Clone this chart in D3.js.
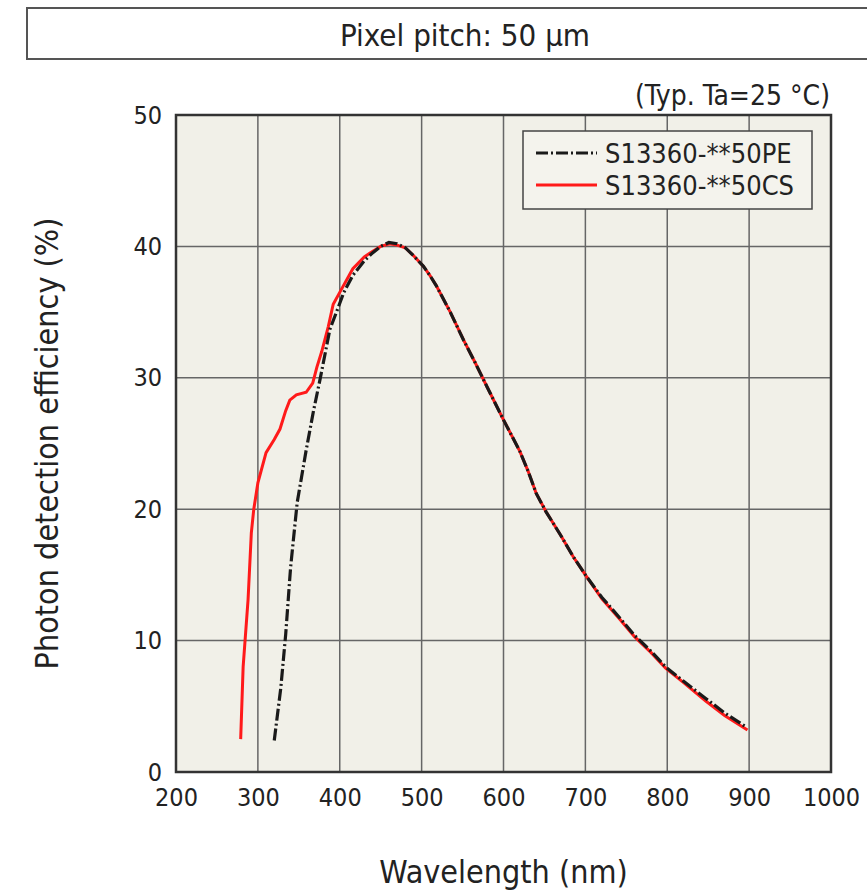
<!DOCTYPE html>
<meta charset="utf-8">
<script src="https://d3js.org/d3.v7.min.js"></script>
<style>
  body { margin: 0; background: #fff; }
  text { font-family: "DejaVu Sans Condensed", "DejaVu Sans", sans-serif; fill: #222; }
</style>
<div id="my_dataviz"></div>
<script>

// wavelength (nm) / photon detection efficiency (%)
var peWave = [320, 328, 334, 340, 348, 359, 368, 376, 388, 396, 405, 416, 430, 440, 450, 460, 470, 480, 490, 502, 510, 518, 535, 551, 565, 580, 600, 620, 630, 640, 652, 670, 685, 700, 720, 741, 760, 780, 798, 820, 847, 870, 897];
var pePde  = [2.4, 6.4, 10.5, 15.6, 20.5, 24.5, 27.5, 29.9, 33.7, 35.0, 36.5, 37.8, 38.9, 39.5, 40.0, 40.3, 40.2, 39.9, 39.3, 38.5, 37.8, 37.0, 35.0, 32.9, 31.2, 29.3, 26.8, 24.4, 22.9, 21.2, 19.8, 18.0, 16.4, 15.0, 13.3, 11.8, 10.4, 9.2, 8.0, 6.9, 5.6, 4.5, 3.4];

var csWave = [279, 282, 288, 292, 295, 300, 310, 320, 327, 334, 339, 347, 359, 367, 372, 378, 386, 392, 400, 416, 430, 437, 450, 461, 470, 480, 490, 502, 510, 518, 535, 551, 565, 580, 600, 620, 630, 640, 652, 670, 685, 700, 720, 741, 760, 780, 798, 820, 847, 870, 898];
var csPde  = [2.5, 8.0, 13.1, 18.2, 20.0, 22.0, 24.3, 25.3, 26.1, 27.5, 28.3, 28.7, 28.9, 29.6, 30.8, 32.0, 33.9, 35.6, 36.5, 38.3, 39.2, 39.5, 40.0, 40.2, 40.1, 39.9, 39.3, 38.5, 37.8, 37.0, 35.0, 32.9, 31.2, 29.3, 26.8, 24.4, 22.9, 21.2, 19.8, 18.0, 16.4, 15.0, 13.2, 11.7, 10.3, 9.1, 7.9, 6.8, 5.4, 4.3, 3.2];

var xTicks = [200, 300, 400, 500, 600, 700, 800, 900, 1000];
var yTicks = [0, 10, 20, 30, 40, 50];
var seriesNames = ["S13360-**50PE", "S13360-**50CS"];

var margin = {top: 115, right: 36, bottom: 121, left: 176},
    width = 867 - margin.left - margin.right,
    height = 893 - margin.top - margin.bottom;

var svg = d3.select("#my_dataviz")
  .append("svg")
    .attr("width", 867)
    .attr("height", 893);

// title box
svg.append("rect")
  .attr("x", 27).attr("y", 8)
  .attr("width", 860).attr("height", 51)
  .attr("fill", "#fff")
  .attr("stroke", "#555")
  .attr("stroke-width", 2);
svg.append("text")
  .attr("x", 465).attr("y", 46)
  .attr("text-anchor", "middle")
  .style("font-size", "31px")
  .text("Pixel pitch: 50 µm");

svg.append("text")
  .attr("x", 830).attr("y", 105)
  .attr("text-anchor", "end")
  .style("font-size", "28px")
  .text("(Typ. Ta=25 °C)");

var g = svg.append("g")
  .attr("transform", "translate(" + margin.left + "," + margin.top + ")");

var x = d3.scaleLinear().domain([200, 1000]).range([0, width]);
var y = d3.scaleLinear().domain([0, 50]).range([height, 0]);

g.append("rect")
  .attr("width", width).attr("height", height)
  .attr("fill", "#f1f0e8");

// grid
g.append("g").selectAll("line")
  .data(xTicks.slice(1, -1))
  .enter().append("line")
    .attr("x1", function(d) { return x(d); }).attr("x2", function(d) { return x(d); })
    .attr("y1", 0).attr("y2", height)
    .attr("stroke", "#666").attr("stroke-width", 1.5);
g.append("g").selectAll("line")
  .data(yTicks.slice(1, -1))
  .enter().append("line")
    .attr("y1", function(d) { return y(d); }).attr("y2", function(d) { return y(d); })
    .attr("x1", 0).attr("x2", width)
    .attr("stroke", "#666").attr("stroke-width", 1.5);

// axes (labels only)
var xAxis = g.append("g")
  .attr("transform", "translate(0," + height + ")")
  .call(d3.axisBottom(x).tickValues(xTicks).tickFormat(d3.format("d")).tickSize(0).tickPadding(16));
var yAxis = g.append("g")
  .call(d3.axisLeft(y).tickValues(yTicks).tickSize(0).tickPadding(14));
[xAxis, yAxis].forEach(function(a) {
  a.select(".domain").remove();
  a.selectAll("text")
    .style("font-size", "25px")
    .style("font-family", "'DejaVu Sans Condensed', 'DejaVu Sans', sans-serif")
    .attr("fill", "#222");
});

g.append("rect")
  .attr("width", width).attr("height", height)
  .attr("fill", "none")
  .attr("stroke", "#333")
  .attr("stroke-width", 2.5);

// curves
var line = d3.line()
  .x(function(d) { return x(d[0]); })
  .y(function(d) { return y(d[1]); });

var peData = d3.zip(peWave, pePde);
var csData = d3.zip(csWave, csPde);

g.append("path")
  .datum(csData)
  .attr("d", line)
  .attr("fill", "none")
  .attr("stroke", "#ff1a1a")
  .attr("stroke-width", 3);

g.append("path")
  .datum(peData)
  .attr("d", line)
  .attr("fill", "none")
  .attr("stroke", "#1a1a1a")
  .attr("stroke-width", 3.2)
  .attr("stroke-dasharray", "12,3,2,3");

// legend
var legend = g.append("g").attr("transform", "translate(347,16)");
legend.append("rect")
  .attr("width", 289).attr("height", 78)
  .attr("fill", "#f4f3ed")
  .attr("stroke", "#444")
  .attr("stroke-width", 1.5);
var styles = [
  {color: "#1a1a1a", dash: "12,3,2,3"},
  {color: "#ff1a1a", dash: null}
];
seriesNames.forEach(function(name, i) {
  var ly = 22 + i * 32;
  legend.append("line")
    .attr("x1", 13).attr("x2", 74)
    .attr("y1", ly).attr("y2", ly)
    .attr("stroke", styles[i].color)
    .attr("stroke-width", 3)
    .attr("stroke-dasharray", styles[i].dash);
  legend.append("text")
    .attr("x", 82).attr("y", ly + 10)
    .style("font-size", "27px")
    .text(name);
});

// axis titles
svg.append("text")
  .attr("x", margin.left + width / 2).attr("y", 883)
  .attr("text-anchor", "middle")
  .style("font-size", "32px")
  .text("Wavelength (nm)");
svg.append("text")
  .attr("transform", "translate(58," + (margin.top + height / 2) + ") rotate(-90)")
  .attr("text-anchor", "middle")
  .style("font-size", "32px")
  .text("Photon detection efficiency (%)");

</script>
